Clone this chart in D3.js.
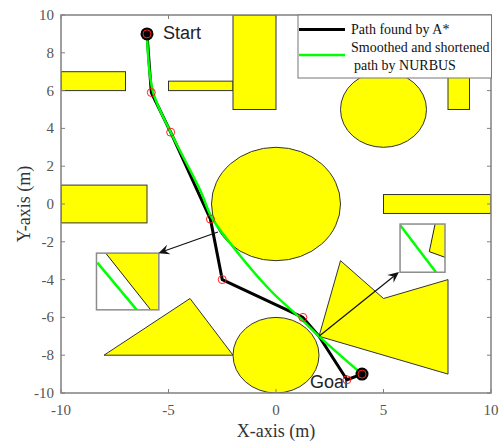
<!DOCTYPE html>
<html>
<head>
<meta charset="utf-8">
<title>A* path and NURBS smoothing</title>
<script src="https://d3js.org/d3.v7.min.js"></script>
<style>
  body { margin: 0; background: #fff; }
  text { font-family: "Liberation Serif", "Times New Roman", serif; }
</style>
</head>
<body>
<script>
// ---- data (metres) ----
var xTicks = [-10, -5, 0, 5, 10];
var yTicks = [-10, -8, -6, -4, -2, 0, 2, 4, 6, 8, 10];

// rectangles: [x0, x1, y0, y1]
var rectObstacles = [[-10, -7, 6, 7], [-5, -2, 6, 6.5], [-2, 0, 5, 10], [8, 9, 5, 7],
                     [-10, -6, -1, 1], [5, 10, -0.5, 0.5]];
// circles: [cx, cy, r]
var circleObstacles = [[0, 0, 3], [5, 5, 2], [0, -8, 2]];
var polyObstacles = [
  [[-8, -8], [-4, -5], [-2, -8]],
  [[2, -7], [3, -3], [5, -5], [8, -4], [8, -9]]
];

var astarPath = [[-6, 9], [-5.8, 5.9], [-4.9, 3.8], [-3.05, -0.8], [-2.5, -4],
                 [1.25, -6], [2, -7], [3.3, -9.3], [4, -9]];
var astarNodes = [[-6, 9], [-5.8, 5.9], [-4.9, 3.8], [-3.05, -0.8], [-2.5, -4],
                  [1.25, -6], [3.3, -9.3], [4, -9]];
var nurbsPath = [[-6, 9], [-5.72, 5.93], [-4.88, 3.76], [-3.53, 0.74], [-2.98, -0.74],
                 [-2.14, -2.06], [-0.28, -4.55], [1.12, -6.03], [2, -7], [4, -9]];

var startPt = [-6, 9], goalPt = [4, -9];

// zoom insets (drawn in data units)
var insets = [
  { box: [-8.35, -5.45, -5.6, -2.6],
    fill: [[-7.92, -2.6], [-5.45, -2.6], [-5.45, -5.6], [-5.83, -5.6]],
    edge: [[-7.92, -2.6], [-5.83, -5.6]],
    green: [[-8.31, -3.1], [-6.48, -5.6]],
    arrow: [[-2.7, -1.48], [-5.47, -2.6]] },
  { box: [5.77, 7.86, -3.61, -1.06],
    fill: [[7.4, -1.06], [7.86, -1.06], [7.86, -2.82], [7.13, -2.52]],
    edge: [[7.4, -1.06], [7.13, -2.52], [7.86, -2.82]],
    green: [[5.77, -1.11], [7.44, -3.61]],
    arrow: [[2, -7], [5.72, -3.6]] }
];

// ---- chart ----
var W = 499, H = 445;
var x = d3.scaleLinear().domain([-10, 10]).range([61, 491]);
var y = d3.scaleLinear().domain([-10, 10]).range([393, 15]);

var svg = d3.select("body").append("svg").attr("width", W).attr("height", H);

svg.append("clipPath").attr("id", "plotclip").append("rect")
   .attr("x", x(-10)).attr("y", y(10)).attr("width", x(10) - x(-10)).attr("height", y(-10) - y(10));

var plot = svg.append("g").attr("clip-path", "url(#plotclip)");
var obstacleStyle = function(sel) {
  sel.attr("fill", "#ffff00").attr("stroke", "#333").attr("stroke-width", 1);
};

plot.selectAll("rect.obs").data(rectObstacles).enter().append("rect")
    .attr("class", "obs")
    .attr("x", function(d) { return x(d[0]); })
    .attr("y", function(d) { return y(d[3]); })
    .attr("width", function(d) { return x(d[1]) - x(d[0]); })
    .attr("height", function(d) { return y(d[2]) - y(d[3]); })
    .call(obstacleStyle);

plot.selectAll("ellipse.obs").data(circleObstacles).enter().append("ellipse")
    .attr("class", "obs")
    .attr("cx", function(d) { return x(d[0]); })
    .attr("cy", function(d) { return y(d[1]); })
    .attr("rx", function(d) { return x(d[2]) - x(0); })
    .attr("ry", function(d) { return y(0) - y(d[2]); })
    .call(obstacleStyle);

var line = d3.line().x(function(d) { return x(d[0]); }).y(function(d) { return y(d[1]); });

plot.selectAll("path.obs").data(polyObstacles).enter().append("path")
    .attr("class", "obs")
    .attr("d", function(d) { return line(d) + "Z"; })
    .call(obstacleStyle);

// "Goal" label goes under the path marks
svg.append("text").attr("x", x(goalPt[0]) - 52).attr("y", y(goalPt[1]) + 14)
   .style("font-family", "Liberation Sans, Arial, sans-serif").style("font-size", "18px")
   .attr("fill", "#222").text("Goal");

// insets
insets.forEach(function(ins, i) {
  var b = ins.box;
  var id = "inset" + i;
  svg.append("clipPath").attr("id", id).append("rect")
     .attr("x", x(b[0])).attr("y", y(b[3])).attr("width", x(b[1]) - x(b[0])).attr("height", y(b[2]) - y(b[3]));
  var g = svg.append("g");
  g.append("rect")
   .attr("x", x(b[0])).attr("y", y(b[3])).attr("width", x(b[1]) - x(b[0])).attr("height", y(b[2]) - y(b[3]))
   .attr("fill", "#fff");
  var c = g.append("g").attr("clip-path", "url(#" + id + ")");
  c.append("path").attr("d", line(ins.fill) + "Z").attr("fill", "#ffff00");
  c.append("path").attr("d", line(ins.edge)).attr("fill", "none").attr("stroke", "#222").attr("stroke-width", 1);
  c.append("path").attr("d", line(ins.green)).attr("fill", "none").attr("stroke", "#00ff00").attr("stroke-width", 2.5);
  g.append("rect")
   .attr("x", x(b[0])).attr("y", y(b[3])).attr("width", x(b[1]) - x(b[0])).attr("height", y(b[2]) - y(b[3]))
   .attr("fill", "none").attr("stroke", "#8c8c8c").attr("stroke-width", 1.5);
});

// paths
svg.append("path").attr("d", line(astarPath))
   .attr("fill", "none").attr("stroke", "#000").attr("stroke-width", 3).attr("stroke-linejoin", "round");
svg.append("path").attr("d", line.curve(d3.curveCatmullRom.alpha(0.5))(nurbsPath))
   .attr("fill", "none").attr("stroke", "#00ff00").attr("stroke-width", 2.5);
line.curve(d3.curveLinear);

// arrows
insets.forEach(function(ins) {
  var a = ins.arrow;
  var x0 = x(a[0][0]), y0 = y(a[0][1]), x1 = x(a[1][0]), y1 = y(a[1][1]);
  var ang = Math.atan2(y1 - y0, x1 - x0);
  var L = 11, Wd = 5, back = 7;
  var ux = Math.cos(ang), uy = Math.sin(ang);
  svg.append("line").attr("x1", x0).attr("y1", y0).attr("x2", x1 - ux * back).attr("y2", y1 - uy * back)
     .attr("stroke", "#111").attr("stroke-width", 1.2);
  var pts = [[x1, y1],
             [x1 - ux * L - uy * Wd, y1 - uy * L + ux * Wd],
             [x1 - ux * back, y1 - uy * back],
             [x1 - ux * L + uy * Wd, y1 - uy * L - ux * Wd]];
  svg.append("path").attr("d", "M" + pts.join("L") + "Z").attr("fill", "#111");
});

// start / goal markers
[startPt, goalPt].forEach(function(p) {
  svg.append("circle").attr("cx", x(p[0])).attr("cy", y(p[1])).attr("r", 6.5).attr("fill", "#000");
});
svg.selectAll("circle.node").data(astarNodes).enter().append("circle")
   .attr("class", "node")
   .attr("cx", function(d) { return x(d[0]); })
   .attr("cy", function(d) { return y(d[1]); })
   .attr("r", 4).attr("fill", "none").attr("stroke", "#ff2020").attr("stroke-width", 1);
svg.append("text").attr("x", x(startPt[0]) + 16).attr("y", y(startPt[1]) + 5)
   .style("font-family", "Liberation Sans, Arial, sans-serif").style("font-size", "18px")
   .attr("fill", "#222").text("Start");

// axes
var axCol = "#555";
var fr = svg.append("g");
fr.append("rect").attr("x", x(-10)).attr("y", y(10)).attr("width", x(10) - x(-10)).attr("height", y(-10) - y(10))
  .attr("fill", "none").attr("stroke", "#808080").attr("stroke-width", 1.5);
xTicks.forEach(function(t) {
  fr.append("line").attr("x1", x(t)).attr("x2", x(t)).attr("y1", y(-10)).attr("y2", y(-10) - 4).attr("stroke", "#808080");
  fr.append("line").attr("x1", x(t)).attr("x2", x(t)).attr("y1", y(10)).attr("y2", y(10) + 4).attr("stroke", "#808080");
  fr.append("text").attr("x", x(t)).attr("y", y(-10) + 22).attr("text-anchor", "middle")
    .style("font-size", "15px").attr("fill", axCol).text(t);
});
yTicks.forEach(function(t) {
  fr.append("line").attr("x1", x(-10)).attr("x2", x(-10) + 4).attr("y1", y(t)).attr("y2", y(t)).attr("stroke", "#808080");
  fr.append("line").attr("x1", x(10)).attr("x2", x(10) - 4).attr("y1", y(t)).attr("y2", y(t)).attr("stroke", "#808080");
  fr.append("text").attr("x", x(-10) - 7).attr("y", y(t) + 5).attr("text-anchor", "end")
    .style("font-size", "15px").attr("fill", axCol).text(t);
});
svg.append("text").attr("x", x(0)).attr("y", 437).attr("text-anchor", "middle")
   .style("font-size", "18px").attr("fill", "#333").text("X-axis (m)");
svg.append("text").attr("transform", "translate(30," + y(0) + ") rotate(-90)").attr("text-anchor", "middle")
   .style("font-size", "18px").attr("fill", "#333").text("Y-axis (m)");

// legend
var lg = svg.append("g");
lg.append("rect").attr("x", 298).attr("y", 15).attr("width", 193.5).attr("height", 63)
  .attr("fill", "#fff").attr("stroke", "#777").attr("stroke-width", 1);
lg.append("line").attr("x1", 299).attr("x2", 345).attr("y1", 29.5).attr("y2", 29.5).attr("stroke", "#000").attr("stroke-width", 3);
lg.append("line").attr("x1", 299).attr("x2", 345).attr("y1", 55).attr("y2", 55).attr("stroke", "#00ff00").attr("stroke-width", 2.5);
lg.append("text").attr("x", 351).attr("y", 34).style("font-size", "14px").attr("fill", "#111").text("Path found by A*");
lg.append("text").attr("x", 351).attr("y", 52).style("font-size", "14px").attr("fill", "#111").text("Smoothed and shortened");
lg.append("text").attr("x", 354).attr("y", 70).style("font-size", "14px").attr("fill", "#111").text("path by NURBUS");
</script>
</body>
</html>
